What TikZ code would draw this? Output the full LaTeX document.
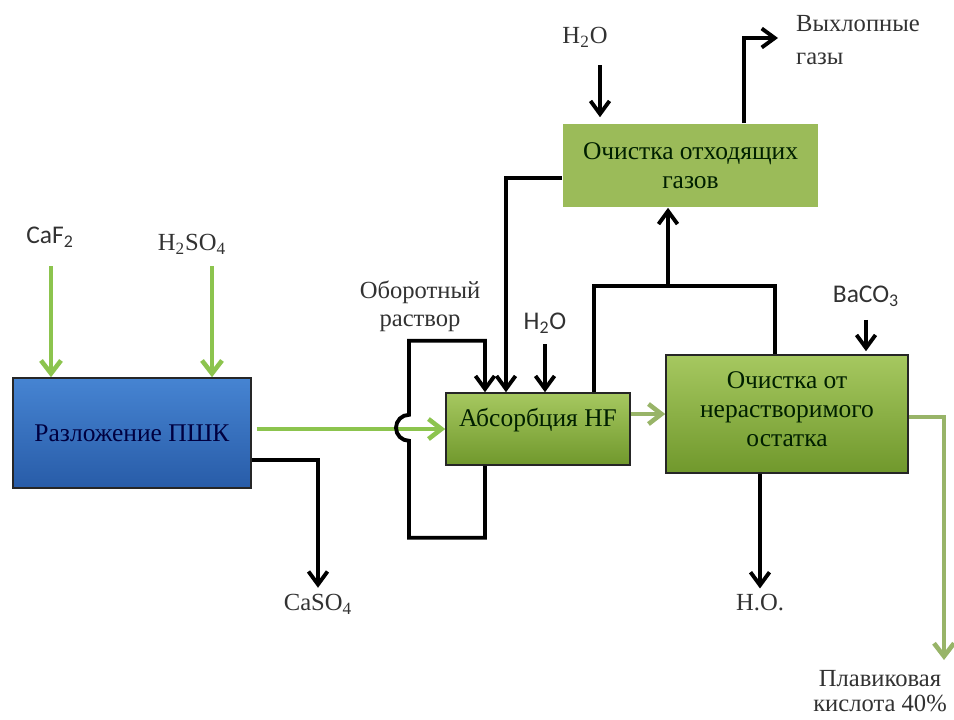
\documentclass[tikz,border=0pt]{standalone}
\usepackage{fontspec}
\setmainfont{Liberation Serif}
\newfontfamily\labelsans{Carlito}
\usepackage{xcolor}
\usepackage{tikz}
\usetikzlibrary{arrows.meta, positioning, calc}
\definecolor{procblue}{RGB}{70,132,210}
\definecolor{procbluedark}{RGB}{40,92,168}
\definecolor{procgreen}{RGB}{166,200,96}
\definecolor{procgreendark}{RGB}{112,152,44}
\definecolor{flatgreen}{RGB}{155,187,89}
\definecolor{feedgreen}{RGB}{140,196,78}
\definecolor{outgreen}{RGB}{152,180,104}
\definecolor{labelgray}{RGB}{50,50,50}
\tikzset{
    stage/.style={rectangle, draw=black!85, line width=0.9pt, align=center,
                  font=\fontsize{14.5}{16.5}\selectfont},
    bluestage/.style={stage, top color=procblue, bottom color=procbluedark, text=blue!25!black},
    greenstage/.style={stage, top color=procgreen, bottom color=procgreendark, text=green!12!black},
    flatstage/.style={stage, draw=none, fill=flatgreen, text=green!12!black},
    lbl/.style={align=center, text=labelgray, font=\fontsize{14}{16}\selectfont},
    sanslbl/.style={align=center, text=labelgray, font=\labelsans\fontsize{14.5}{16}\selectfont},
    flow/.style={line width=2.2pt, -{Straight Barb[length=2.6mm, width=3.8mm]}},
    plainflow/.style={line width=2.2pt},
    feed/.style={line width=2.6pt, feedgreen, -{Straight Barb[length=2.6mm, width=4mm]}},
    product/.style={line width=2.6pt, outgreen, -{Straight Barb[length=2.6mm, width=4mm]}}
}

\begin{document}
\begin{tikzpicture}[x=0.2mm, y=-0.2mm]
    \useasboundingbox (0,0) rectangle (954,719);

    % Process stages
    \node[bluestage, minimum width=47.6mm, minimum height=22mm] (pshk) at (132,433) {Разложение ПШК};
    \node[greenstage, minimum width=36.8mm, minimum height=14.4mm, text depth=4.5mm] (absb) at (538,429) {Абсорбция HF};
    \node[flatstage, minimum width=51mm, minimum height=16.6mm] (top) at (690.5,165.5) {Очистка отходящих\\газов};
    \node[greenstage, minimum width=48.4mm, minimum height=23.6mm, text depth=2mm] (purif) at (787,414) {Очистка от\\нерастворимого\\остатка};

    % Labels
    \node[sanslbl] (caf) at (50,237) {CaF\textsubscript{2}};
    \node[lbl] (hso) at (192,244) {H\textsubscript{2}SO\textsubscript{4}};
    \node[lbl] (caso) at (318,604) {CaSO\textsubscript{4}};
    \node[lbl] (orb) at (420,306) {Оборотный\\раствор};
    \node[sanslbl] (hwa) at (545,323) {H\textsubscript{2}O};
    \node[lbl] (htop) at (585,37) {H\textsubscript{2}O};
    \node[lbl, anchor=west, align=left, font=\fontsize{14}{19}\selectfont] (exh) at (790,40) {Выхлопные\\газы};
    \node[sanslbl] (baco) at (866,296) {BaCO\textsubscript{3}};
    \node[lbl] (ho) at (760,603) {Н.О.};
    \node[lbl, font=\fontsize{14}{14}\selectfont, inner sep=1pt] (hf) at (880,691) {Плавиковая\\кислота 40\%};

    % Free ends
    \coordinate (caftop) at (51,266);
    \coordinate (hsotop) at (212,266);
    \coordinate (h2oin) at (600,65);
    \coordinate (exhtip) at (778,38);
    \coordinate (gasjoin) at (668,286);
    \coordinate (acidout) at (944,660);

    % Feeds
    \draw[feed] (caftop) -- (caftop |- pshk.north);
    \draw[feed] (hsotop) -- (hsotop |- pshk.north);
    \draw[feed] ([xshift=1mm]pshk.east |- absb.west) -- (absb.west);
    \draw[flow] ([yshift=-5.4mm]pshk.east) -| (caso.north);

    % Recycle loop
    \draw[flow] ([xshift=-10.6mm]absb.south) -- ++(0,72) -- ++(-76,0) -- ++(0,-97)
        arc[start angle=270, end angle=90, radius=2.6mm] -- ++(0,-74) -- ++(76,0)
        -- ([xshift=-10.6mm]absb.north);
    \draw[flow] ([yshift=-2.5mm]top.west) -| ([xshift=-6.4mm]absb.north);
    \draw[flow, shorten <=1mm] (hwa.south) -- (hwa.south |- absb.north);

    % Gas lines
    \draw[plainflow] ([xshift=11.2mm]absb.north) |- (gasjoin) -| ([xshift=-2.4mm]purif.north);
    \draw[flow] (gasjoin) -- (gasjoin |- top.south);
    \draw[flow, shorten >=1.2mm] (h2oin) -- (h2oin |- top.north);
    \draw[flow] ([xshift=10.7mm]top.north) |- (exhtip);

    % Purification
    \draw[product] (absb.east |- purif.west) -- (purif.west);
    \draw[flow, shorten <=1.5mm, shorten >=0.6mm] (baco.south) -- (baco.south |- purif.north);
    \draw[flow] ([xshift=-5.4mm]purif.south) -- (ho.north);
    \draw[product] ([yshift=-0.6mm]purif.east) -| (acidout);
\end{tikzpicture}
\end{document}
